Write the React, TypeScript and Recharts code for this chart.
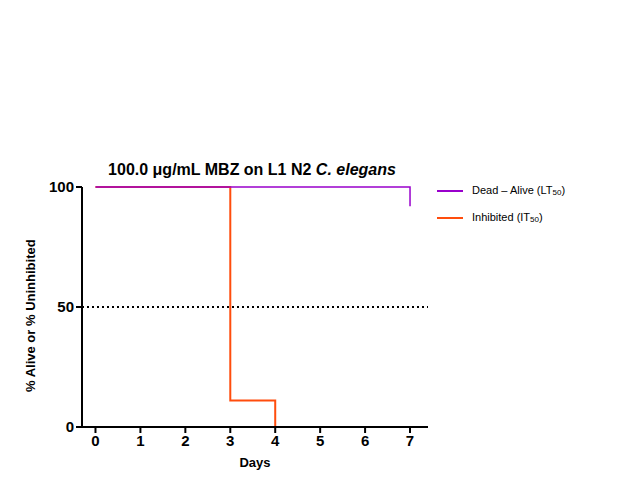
import { LineChart, Line, XAxis, YAxis, ReferenceLine } from 'recharts'

const deadAliveDays = [0, 7, 7]
const deadAliveValues = [100, 100, 92]
const inhibitedDays = [0, 3, 3, 4, 4, 7]
const inhibitedValues = [100, 100, 11, 11, 0, 0]
const xTicks = [0, 1, 2, 3, 4, 5, 6, 7]
const yTicks = [0, 50, 100]

const deadAlive = deadAliveDays.map((d, i) => ({ day: d, v: deadAliveValues[i] }))
const inhibited = inhibitedDays.map((d, i) => ({ day: d, v: inhibitedValues[i] }))

const FONT = '"Liberation Sans", Arial, sans-serif'

export default function App() {
  return (
    <div style={{ position: 'absolute', left: 0, top: 0, width: 640, height: 480, fontFamily: FONT, background: '#fff' }}>
      <div style={{ position: 'absolute', top: 161, left: 0, width: 504, textAlign: 'center', fontSize: 16, fontWeight: 'bold' }}>
        100.0 μg/mL MBZ on L1 N2 <i>C. elegans</i>
      </div>
      <LineChart width={640} height={480} margin={{ top: 187, right: 212, bottom: 23, left: 22 }}>
        <XAxis type="number" dataKey="day" domain={[-0.3, 7.4]} ticks={xTicks} allowDuplicatedCategory={false}
          height={30} stroke="#000" strokeWidth={2} tickSize={6}
          tick={{ fontSize: 15, fontWeight: 'bold', fill: '#000', fontFamily: FONT }}
          label={{ value: 'Days', position: 'insideBottom', offset: -10, fontSize: 13, fontWeight: 'bold', fill: '#000', fontFamily: FONT }} />
        <YAxis type="number" dataKey="v" domain={[0, 100]} ticks={yTicks} width={60} stroke="#000" strokeWidth={2} tickSize={6}
          tick={{ fontSize: 15, fontWeight: 'bold', fill: '#000', fontFamily: FONT }}
          label={{ value: '% Alive or % Uninhibited', angle: -90, position: 'insideLeft', offset: 8, dy: 85, fontSize: 13, fontWeight: 'bold', fill: '#000', fontFamily: FONT }} />
        <ReferenceLine y={50} stroke="#000" strokeWidth={2} strokeDasharray="2 3" />
        <Line data={inhibited} dataKey="v" type="linear" stroke="#ff4d0d" strokeWidth={2} dot={false} isAnimationActive={false} />
        <Line data={deadAlive} dataKey="v" type="linear" stroke="#9900cc" strokeWidth={1.5} dot={false} isAnimationActive={false} />
      </LineChart>
      <div style={{ position: 'absolute', left: 437, top: 178, fontSize: 11, lineHeight: '24px' }}>
        <div><span style={{ display: 'inline-block', width: 26, height: 2, background: '#9900cc', verticalAlign: 'middle', marginRight: 9 }} />Dead – Alive (LT<sub style={{ fontSize: 8, verticalAlign: '-1px' }}>50</sub>)</div>
        <div><span style={{ display: 'inline-block', width: 26, height: 2, background: '#ff4d0d', verticalAlign: 'middle', marginRight: 9 }} />Inhibited (IT<sub style={{ fontSize: 8, verticalAlign: '-1px' }}>50</sub>)</div>
      </div>
    </div>
  )
}
